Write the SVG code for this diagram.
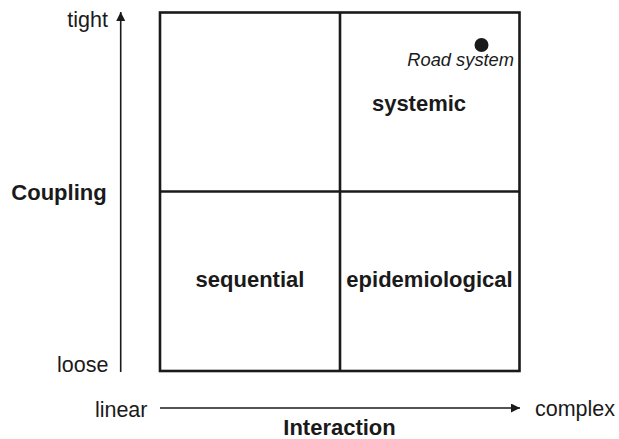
<svg xmlns="http://www.w3.org/2000/svg" width="619" height="439" viewBox="0 0 619 439">
<style>
text{font-family:"Liberation Sans",Arial,sans-serif;fill:#1a1a1a}
.lab{font-size:21.5px}
.b{font-weight:bold;font-size:22px;text-anchor:middle}
.grid{fill:none;stroke:#1a1a1a;stroke-width:2.6}
.axis{stroke:#1a1a1a;stroke-width:1.6}
</style>
<defs>
<marker id="ah" viewBox="0 0 10 10" refX="10" refY="5" markerWidth="10" markerHeight="9" markerUnits="userSpaceOnUse" orient="auto">
<path d="M0,0 L10,5 L0,10 z" fill="#1a1a1a"/>
</marker>
</defs>
<rect width="619" height="439" fill="#fff"/>
<g id="connectors">
<line class="axis" x1="120.7" y1="372" x2="120.7" y2="12" marker-end="url(#ah)"/>
<line class="axis" x1="160" y1="408" x2="520" y2="408" marker-end="url(#ah)"/>
</g>
<g id="grid">
<rect class="grid" x="160" y="12.5" width="359.5" height="358.5"/>
<line class="grid" x1="340" y1="12.5" x2="340" y2="371"/>
<line class="grid" x1="160" y1="191.5" x2="519.5" y2="191.5"/>
</g>
<g id="axis-labels">
<text class="lab" x="108" y="27" text-anchor="end">tight</text>
<text class="lab" x="108.5" y="372" text-anchor="end">loose</text>
<text class="lab" x="147.5" y="416.5" text-anchor="end">linear</text>
<text class="lab" x="535" y="415.5">complex</text>
<text class="b" x="59" y="199.5">Coupling</text>
<text class="b" x="339.5" y="434.5">Interaction</text>
</g>
<g id="systemic"><text class="b" x="419" y="111">systemic</text></g>
<g id="sequential"><text class="b" x="250" y="287">sequential</text></g>
<g id="epidemiological"><text class="b" x="429.5" y="287">epidemiological</text></g>
<g id="road-system">
<circle cx="481.5" cy="45" r="7" fill="#1a1a1a"/>
<text x="514" y="65.5" text-anchor="end" font-style="italic" font-size="18.3">Road system</text>
</g>
</svg>
